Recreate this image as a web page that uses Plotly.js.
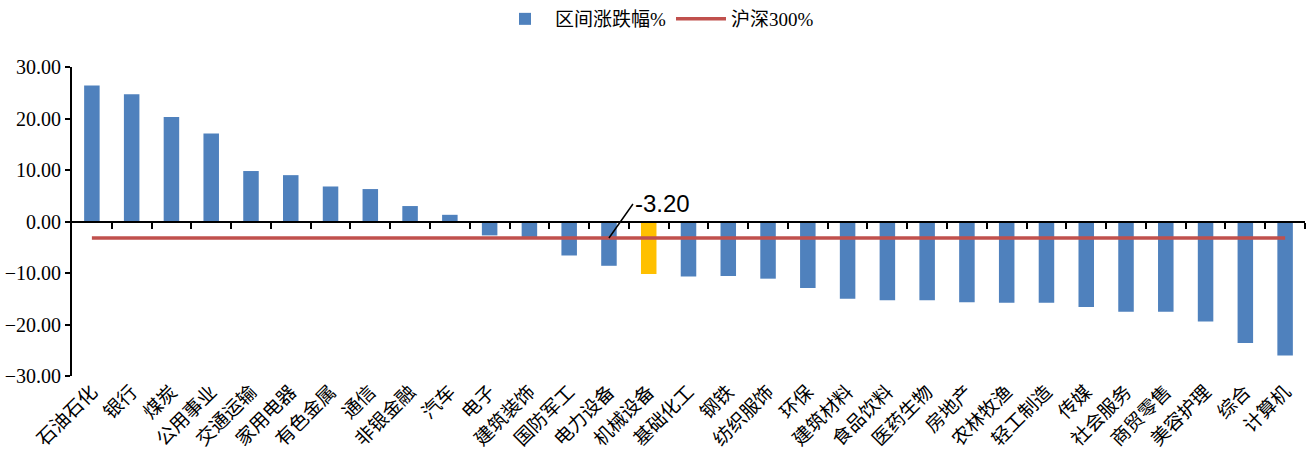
<!DOCTYPE html>
<html>
<head>
<meta charset="utf-8">
<script src="https://cdn.plot.ly/plotly-3.0.1.min.js"></script>
<style>html,body{margin:0;padding:0;background:#fff;}#chart{width:1314px;height:472px;}</style>
</head>
<body>
<div id="chart"></div>
<script>
const categories = ['石油石化','银行','煤炭','公用事业','交通运输','家用电器','有色金属','通信','非银金融','汽车','电子','建筑装饰','国防军工','电力设备','机械设备','基础化工','钢铁','纺织服饰','环保','建筑材料','食品饮料','医药生物','房地产','农林牧渔','轻工制造','传媒','社会服务','商贸零售','美容护理','综合','计算机'];
const changePct = [26.4, 24.7, 20.3, 17.1, 9.8, 9.0, 6.8, 6.3, 3.0, 1.3, -2.7, -3.0, -6.6, -8.6, -10.2, -10.7, -10.6, -11.1, -12.9, -15.0, -15.3, -15.3, -15.7, -15.8, -15.8, -16.6, -17.5, -17.5, -19.4, -23.6, -26.0];
const hs300 = -3.20;
const highlight = '机械设备';
const seriesNames = ['区间涨跌幅%', '沪深300%'];

const idx = categories.map((c, i) => i);
const barColors = categories.map(c => c === highlight ? '#FFC000' : '#4F81BD');
const hsLine = categories.map(() => hs300);
const boundaries = categories.map((c, i) => i + 0.5);
const annIdx = categories.indexOf('电力设备');

const serif = 'Liberation Serif, Noto Sans CJK SC, serif';
const cjk = 'Noto Sans CJK SC, sans-serif';

const traces = [
  {type: 'bar', x: idx, y: changePct, name: seriesNames[0], marker: {color: barColors}, width: 0.39},
  {type: 'scatter', mode: 'lines', x: idx, y: hsLine, name: seriesNames[1], line: {color: '#C0504D', width: 3.5}},
  {type: 'scatter', mode: 'markers', x: [0], y: [0], xaxis: 'x2', showlegend: false, hoverinfo: 'skip', marker: {opacity: 0}}
];

const layout = {
  width: 1314, height: 472,
  margin: {l: 72, r: 9, t: 67, b: 96},
  paper_bgcolor: '#fff', plot_bgcolor: '#fff',
  showlegend: true,
  legend: {orientation: 'h', xref: 'container', yref: 'container', x: 0.5, xanchor: 'center', y: 1.0, yanchor: 'top',
           font: {family: serif, size: 19, color: '#000'}, itemwidth: 50, tracegroupgap: 0},
  xaxis: {range: [-0.5, 30.5], tickmode: 'array', tickvals: idx, ticktext: categories, tickangle: -45,
          ticks: '', showline: false, showgrid: false, zeroline: false,
          tickfont: {family: cjk, size: 19, color: '#000'}},
  xaxis2: {overlaying: 'x', matches: 'x', anchor: 'free', position: 0.5, side: 'bottom',
           tickmode: 'array', tickvals: boundaries, showticklabels: false,
           ticks: 'outside', ticklen: 6, tickwidth: 2, tickcolor: '#000',
           showline: true, linecolor: '#000', linewidth: 2, showgrid: false, zeroline: false},
  yaxis: {range: [-30, 30], dtick: 10, tickformat: '.2f', showgrid: false, zeroline: false,
          showline: true, linecolor: '#000', linewidth: 2, ticks: 'outside', ticklen: 5, tickwidth: 2, tickcolor: '#000',
          tickfont: {family: serif, size: 20, color: '#000'}},
  annotations: [{x: annIdx, y: hs300, xref: 'x', yref: 'y', text: '-3.20', showarrow: true, arrowhead: 0,
                 arrowwidth: 1.5, arrowcolor: '#000', ax: 24, ay: -34, xanchor: 'left',
                 font: {family: 'Liberation Sans, sans-serif', size: 24, color: '#000'}}]
};

Plotly.newPlot('chart', traces, layout, {displayModeBar: false, staticPlot: true});
</script>
</body>
</html>
